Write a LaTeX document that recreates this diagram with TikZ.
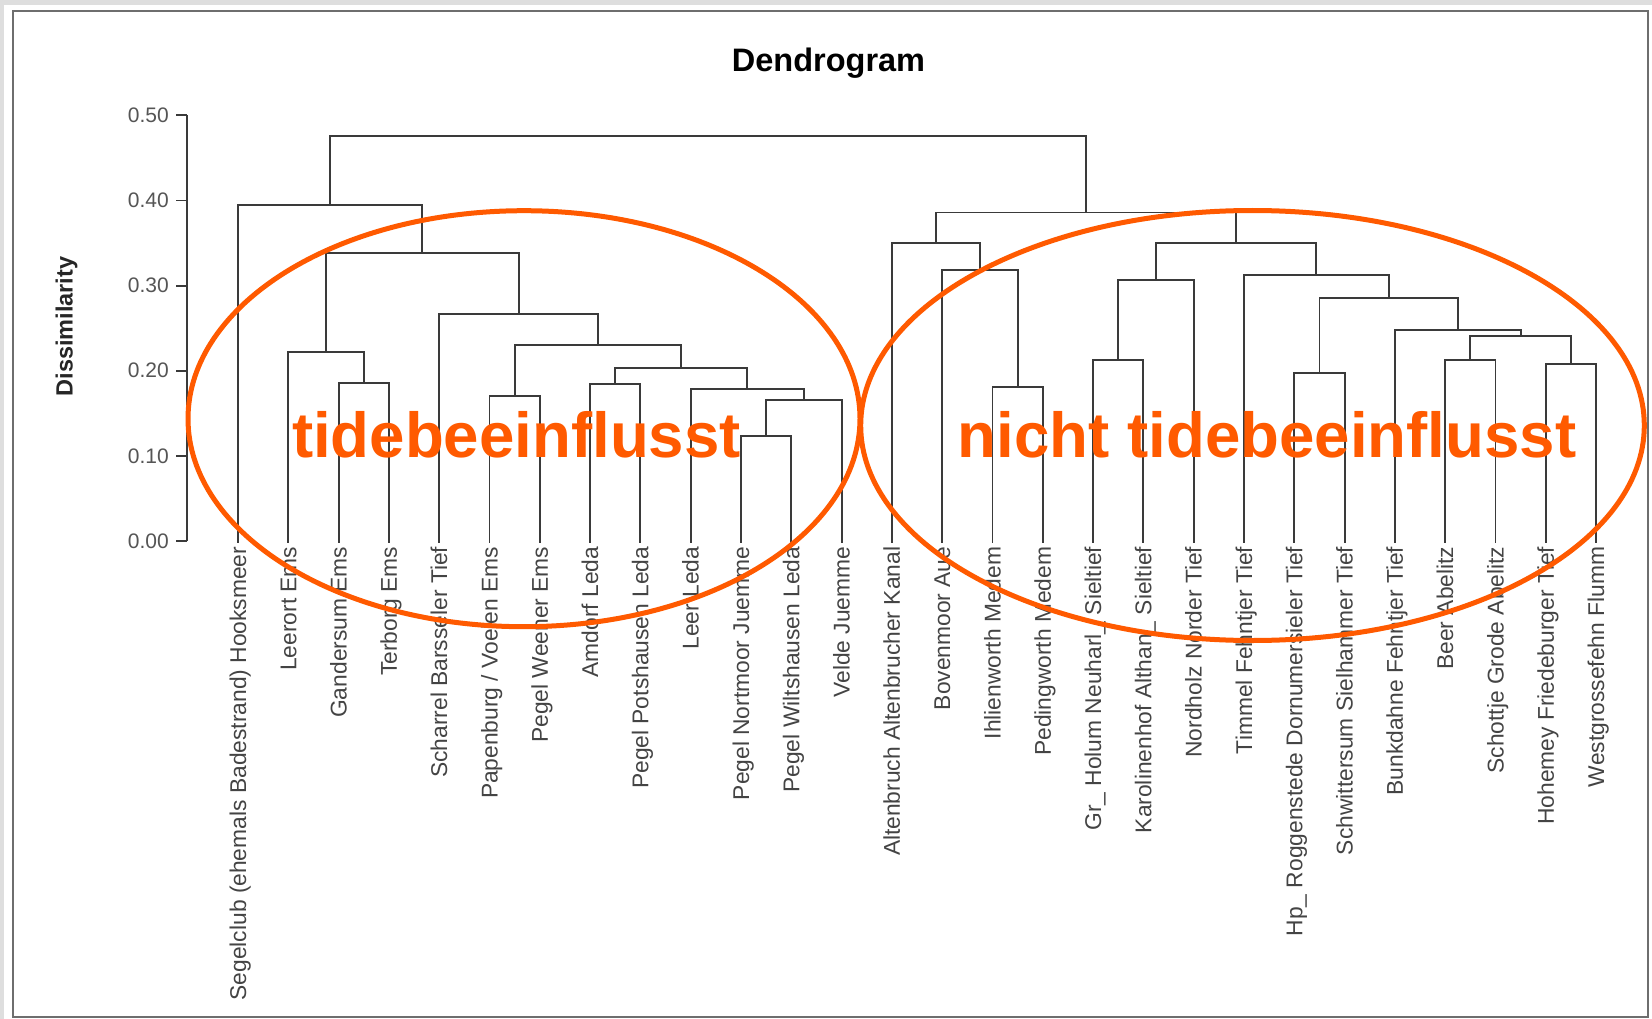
\documentclass[tikz,border=0pt]{standalone}
\usepackage{fontspec}
\setmainfont{Liberation Sans}
\definecolor{orng}{RGB}{255,90,0}
\definecolor{dgray}{RGB}{58,58,58}
\definecolor{lblgray}{RGB}{68,68,68}
\definecolor{tickgray}{RGB}{85,85,85}
\definecolor{bggray}{RGB}{222,222,222}
\definecolor{framecol}{RGB}{110,110,110}
\begin{document}
\begin{tikzpicture}[x=1pt,y=-1pt,
  link/.style={draw=dgray,line width=1.9pt},
  axisline/.style={draw=dgray,line width=1.9pt},
  leaflabel/.style={rotate=90,anchor=base east,inner sep=0pt,text=lblgray,font=\fontsize{22.8}{22.8}\selectfont},
  ticklabel/.style={anchor=east,inner sep=0pt,text=tickgray,font=\fontsize{21}{21}\selectfont},
  titletext/.style={anchor=base,inner sep=0pt,font=\fontsize{32.5}{32.5}\selectfont\bfseries},
  axistitle/.style={rotate=90,anchor=base,inner sep=0pt,text=black!85,font=\fontsize{23.5}{23.5}\selectfont\bfseries},
  bigtext/.style={anchor=base,inner sep=0pt,text=orng,font=\fontsize{63.6}{63.6}\selectfont\bfseries},
  ring/.style={draw=orng,line width=5pt}]
\useasboundingbox (0,0) rectangle (1652,1019);
\fill[bggray] (0,0) rectangle (1652,1019);
\fill[white] (4,5) rectangle (1652,1019);
\draw[framecol,line width=2.6pt] (13,11) rectangle (1648,1017);

% title
\node[titletext] (title) at (828.5,71.4) {Dendrogram};
\node[axistitle] (ylab) at (72.7,326.5) {Dissimilarity};

% y axis
\coordinate (ax0) at (187,541);
\coordinate (ax5) at (187,115.4);
\draw[axisline] (ax0) -- (ax5);
\foreach \k/\lab in {0/0.00,1/0.10,2/0.20,3/0.30,4/0.40,5/0.50}{
  \coordinate (tk\k) at (187,{541-85.12*\k});
  \draw[axisline] (tk\k) -- ++(-11,0);
  \node[ticklabel] (tl\k) at (169,{541-85.12*\k}) {\lab};
}

% leaves
\foreach \i/\t in {
 0/{Segelclub (ehemals Badestrand) Hooksmeer},
 1/{Leerort Ems},
 2/{Gandersum Ems},
 3/{Terborg Ems},
 4/{Scharrel Barsseler Tief},
 5/{Papenburg / Voelen Ems},
 6/{Pegel Weener Ems},
 7/{Amdorf Leda},
 8/{Pegel Potshausen Leda},
 9/{Leer Leda},
 10/{Pegel Nortmoor Juemme},
 11/{Pegel Wiltshausen Leda},
 12/{Velde Juemme},
 13/{Altenbruch Altenbrucher Kanal},
 14/{Bovenmoor Aue},
 15/{Ihlienworth Medem},
 16/{Pedingworth Medem},
 17/{Gr\_ Holum Neuharl\_ Sieltief},
 18/{Karolinenhof Althan\_ Sieltief},
 19/{Nordholz Norder Tief},
 20/{Timmel Fehntjer Tief},
 21/{Hp\_ Roggenstede Dornumersieler Tief},
 22/{Schwittersum Sielhammer Tief},
 23/{Bunkdahne Fehntjer Tief},
 24/{Beer Abelitz},
 25/{Schottje Grode Abelitz},
 26/{Hohemey Friedeburger Tief},
 27/{Westgrossefehn Flumm}}{
  \coordinate (L\i) at ({238+50.3*\i},543);
  \node[leaflabel] (T\i) at ({238+50.3*\i+8},546.5) {\t};
}

% internal merge points
\coordinate (n23)   at (363.75,383);
\coordinate (n123)  at (326.0,351.8);
\coordinate (n56)   at (514.65,396.4);
\coordinate (n78)   at (615.25,384);
\coordinate (n1011) at (766.15,436.4);
\coordinate (n1012) at (803.9,400);
\coordinate (n912)  at (747.3,388.6);
\coordinate (n712)  at (681.3,368);
\coordinate (n512)  at (598.0,345.4);
\coordinate (n412)  at (518.6,314);
\coordinate (n112)  at (422.3,253);
\coordinate (nA)    at (330.1,205.4);
\coordinate (n1516) at (1017.65,386.8);
\coordinate (n1416) at (979.9,270.4);
\coordinate (n1316) at (935.9,242.9);
\coordinate (n1718) at (1118.25,359.6);
\coordinate (n1719) at (1156.0,280.4);
\coordinate (n2122) at (1319.45,373.2);
\coordinate (n2425) at (1470.35,359.6);
\coordinate (n2627) at (1570.95,364.3);
\coordinate (n2427) at (1520.65,335.7);
\coordinate (n2327) at (1457.8,330.4);
\coordinate (n2127) at (1388.6,298.2);
\coordinate (n2027) at (1316.3,275);
\coordinate (n1727) at (1236.15,242.9);
\coordinate (nB)    at (1086.0,212.5);
\coordinate (nR)    at (708.1,135.7);

\foreach \p/\c in {n23/L2,n23/L3,n123/L1,n123/n23,n56/L5,n56/L6,n78/L7,n78/L8,
  n1011/L10,n1011/L11,n1012/n1011,n1012/L12,n912/L9,n912/n1012,n712/n78,n712/n912,
  n512/n56,n512/n712,n412/L4,n412/n512,n112/n123,n112/n412,nA/L0,nA/n112,
  n1516/L15,n1516/L16,n1416/L14,n1416/n1516,n1316/L13,n1316/n1416,
  n1718/L17,n1718/L18,n1719/n1718,n1719/L19,n2122/L21,n2122/L22,
  n2425/L24,n2425/L25,n2627/L26,n2627/L27,n2427/n2425,n2427/n2627,
  n2327/L23,n2327/n2427,n2127/n2122,n2127/n2327,n2027/L20,n2027/n2127,
  n1727/n1719,n1727/n2027,nB/n1316,nB/n1727,nR/nA,nR/nB}{
  \draw[link] (\p) -| (\c);
}

% orange groups
\draw[ring] (524,418.7) ellipse [x radius=336pt, y radius=208pt];
\draw[ring] (1252.5,425.5) ellipse [x radius=391.8pt, y radius=215pt];
\node[bigtext] (tide) at (516.4,457) {tidebeeinflusst};
\node[bigtext] (ntide) at (1267,457) {nicht tidebeeinflusst};
\end{tikzpicture}
\end{document}
